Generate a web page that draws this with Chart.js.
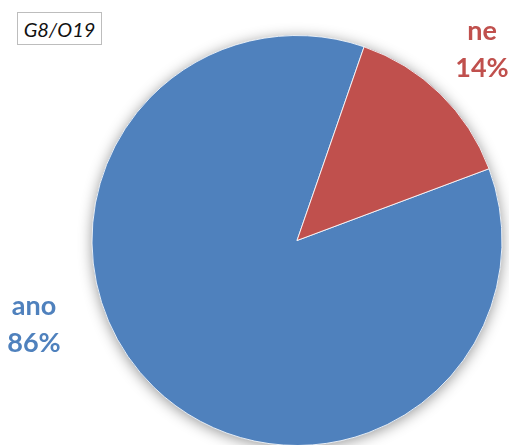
<!DOCTYPE html>
<html>
<head>
<meta charset="utf-8">
<script src="https://cdn.jsdelivr.net/npm/chart.js@4/dist/chart.umd.min.js"></script>
<style>
  html, body { margin: 0; padding: 0; background: #fff; overflow: hidden; }
  #wrap { position: relative; width: 509px; height: 451px; }
  #tag {
    position: absolute; left: 17px; top: 12px; width: 85px; height: 33px;
    border: 1px solid #bdbdbd; background: #fff; box-sizing: border-box;
    font: italic 20px Lato, "Liberation Sans", sans-serif; color: #111;
    display: flex; align-items: center; justify-content: center; z-index: 2;
  }
</style>
</head>
<body>
<div id="wrap">
  <div id="tag">G8/O19</div>
  <canvas id="c" width="509" height="451"></canvas>
</div>
<script>
// Survey answers: yes / no shares (percent)
const categories = ["ano", "ne"];
const shares = [86, 14];
const sliceColors = ["#4F81BD", "#C0504D"];

// Soft outer shadow behind the whole pie
const pieShadow = {
  id: "pieShadow",
  beforeDatasetsDraw(chart) {
    const arc = chart.getDatasetMeta(0).data[0];
    if (!arc) return;
    const { x, y, outerRadius } = arc.getProps(["x", "y", "outerRadius"], true);
    const ctx = chart.ctx;
    ctx.save();
    ctx.shadowColor = "rgba(0,0,0,0.42)";
    ctx.shadowBlur = 14;
    ctx.shadowOffsetX = 0;
    ctx.shadowOffsetY = 2;
    ctx.fillStyle = "#4F81BD";
    ctx.beginPath();
    ctx.arc(x, y, outerRadius, 0, Math.PI * 2);
    ctx.fill();
    ctx.restore();
  }
};

// Category name and percentage written beside the pie
const outsideLabels = {
  id: "outsideLabels",
  afterDatasetsDraw(chart) {
    const ctx = chart.ctx;
    const spots = [
      { cx: 34, y1: 315, y2: 352 },   // ano
      { cx: 482, y1: 40, y2: 77 }     // ne
    ];
    ctx.save();
    ctx.font = "bold 27px Lato, 'Open Sans', sans-serif";
    ctx.textAlign = "center";
    ctx.textBaseline = "alphabetic";
    categories.forEach((name, i) => {
      const s = spots[i];
      ctx.fillStyle = sliceColors[i];
      ctx.fillText(name, s.cx, s.y1);
      ctx.fillText(shares[i] + "%", s.cx, s.y2);
    });
    ctx.restore();
  }
};

new Chart(document.getElementById("c"), {
  type: "pie",
  data: {
    labels: categories,
    datasets: [{
      data: shares,
      backgroundColor: sliceColors,
      borderColor: "rgba(255,255,255,0.85)",
      borderWidth: 1
    }]
  },
  options: {
    responsive: false,
    animation: false,
    rotation: 69.5,
    layout: { padding: { left: 91, right: 6, top: 35, bottom: 5 } },
    plugins: {
      legend: { display: false },
      tooltip: { enabled: false },
      title: { display: false }
    }
  },
  plugins: [pieShadow, outsideLabels]
});
</script>
</body>
</html>
